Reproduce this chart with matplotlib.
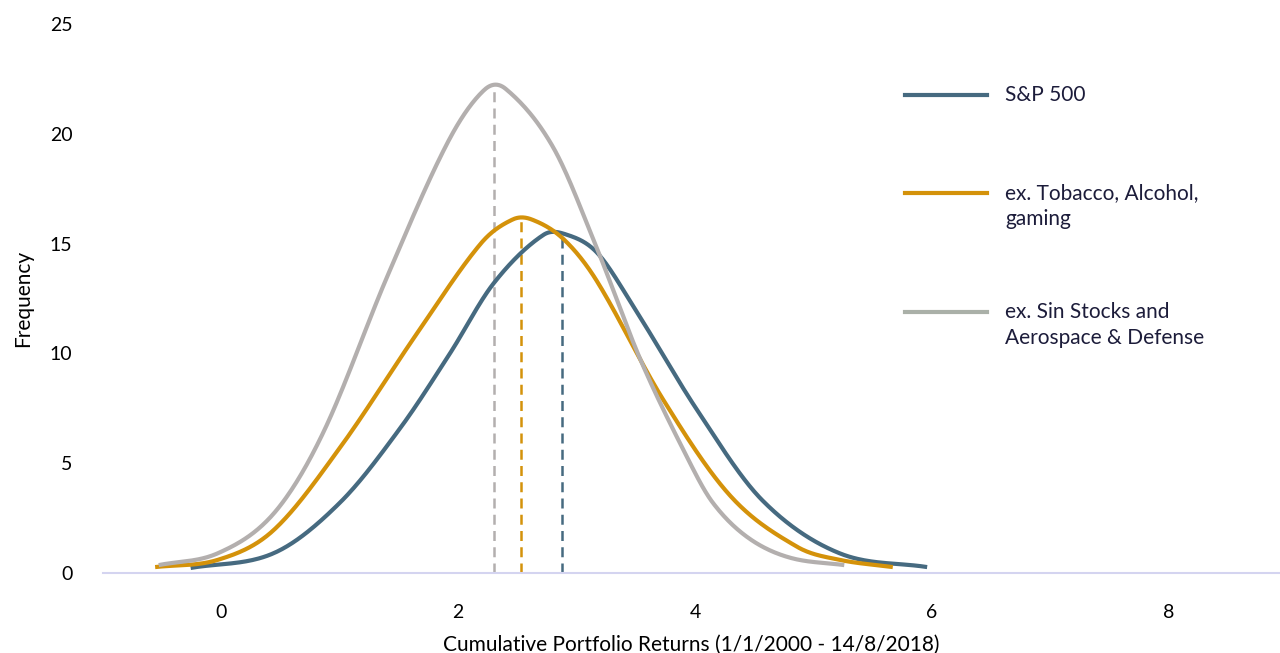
import numpy as np
import matplotlib.pyplot as plt
from matplotlib.lines import Line2D

plt.rcParams['font.family'] = ['Lato', 'DejaVu Sans']

# Values
sp500_x = [-0.26, 0.44, 1.00, 1.51, 1.93, 2.30, 2.72, 2.92, 3.17, 3.45, 4.02, 4.57, 5.22, 5.96]
sp500_y = [0.23, 0.9, 3.2, 6.6, 10.0, 13.2, 15.4, 15.4, 14.6, 12.4, 7.4, 3.3, 0.9, 0.27]

tobacco_x = [-0.56, -0.03, 0.44, 1.00, 1.65, 2.19, 2.46, 2.62, 2.89, 3.17, 3.73, 4.30, 4.86, 5.22, 5.67]
tobacco_y = [0.27, 0.6, 1.95, 5.7, 10.9, 15.0, 16.1, 16.1, 15.2, 13.3, 7.9, 3.5, 1.2, 0.6, 0.27]

sin_x = [-0.53, -0.03, 0.44, 0.86, 1.40, 1.91, 2.22, 2.40, 2.80, 3.17, 3.54, 3.93, 4.15, 4.45, 4.80, 5.26]
sin_y = [0.36, 0.9, 2.7, 6.4, 13.5, 19.6, 22.0, 22.05, 19.4, 14.8, 9.7, 5.3, 3.2, 1.6, 0.7, 0.36]

means = [2.88, 2.53, 2.30]
mean_heights = [15.4, 16.1, 22.2]

labels = ['S&P 500', 'ex. Tobacco, Alcohol,\ngaming', 'ex. Sin Stocks and\nAerospace & Defense']
colors = ['#466a80', '#d4920a', '#b3afae']


def smooth(xs, ys, n=40):
    # cubic Hermite through the points (smoothed line look)
    x = np.asarray(xs, float)
    y = np.asarray(ys, float)
    m = np.zeros_like(y)
    m[1:-1] = (y[2:] - y[:-2]) / (x[2:] - x[:-2])
    m[0] = (y[1] - y[0]) / (x[1] - x[0])
    m[-1] = (y[-1] - y[-2]) / (x[-1] - x[-2])
    px, py = [], []
    t = np.linspace(0, 1, n)
    for i in range(len(x) - 1):
        h = x[i + 1] - x[i]
        h00 = 2 * t**3 - 3 * t**2 + 1
        h10 = t**3 - 2 * t**2 + t
        h01 = -2 * t**3 + 3 * t**2
        h11 = t**3 - t**2
        px.append(x[i] + h * t)
        py.append(h00 * y[i] + h10 * h * m[i] + h01 * y[i + 1] + h11 * h * m[i + 1])
    return np.concatenate(px), np.concatenate(py)


fig = plt.figure(figsize=(12.8, 6.53), dpi=100)
ax = fig.add_axes([0.0805, 0.1225, 0.9195, 0.8407])

series = [(sp500_x, sp500_y), (tobacco_x, tobacco_y), (sin_x, sin_y)]
for (xs, ys), c in zip(series, colors):
    sx, sy = smooth(xs, ys)
    ax.plot(sx, sy, color=c, lw=3, solid_capstyle='butt', zorder=3)

for m, h, c in zip(means, mean_heights, colors):
    ax.plot([m, m], [0, h], color=c, lw=1.8, ls=(0, (4, 2.5)), zorder=2)

ax.set_xlim(-1, 8.94)
ax.set_ylim(0, 25)
ax.set_xticks([0, 2, 4, 6, 8])
ax.set_yticks([0, 5, 10, 15, 20, 25])
for s in ['top', 'right', 'left']:
    ax.spines[s].set_visible(False)
ax.spines['bottom'].set_color('#d4d4f0')
ax.spines['bottom'].set_linewidth(1.5)
ax.tick_params(length=0, labelsize=14, colors='black')
ax.tick_params(axis='x', pad=22)
ax.tick_params(axis='y', pad=22)
ax.set_xlabel('Cumulative Portfolio Returns (1/1/2000 - 14/8/2018)', fontsize=15, labelpad=10)
ax.set_ylabel('Frequency', fontsize=15, labelpad=12)

# legend drawn at the right side
leg_y = [95, 193, 312]
leg_colors = ['#466a80', '#d4920a', '#aab0a8']
for y, c, lab in zip(leg_y, leg_colors, labels):
    fy = 1 - y / 653
    fig.add_artist(Line2D([905 / 1280, 987 / 1280], [fy, fy], color=c, lw=3,
                          transform=fig.transFigure))
    fig.text(1005 / 1280, fy + 10 / 653, lab, fontsize=15, color='#1c1c3a',
             va='top', ha='left', linespacing=1.35)

fig.savefig('out.png', dpi=100)
